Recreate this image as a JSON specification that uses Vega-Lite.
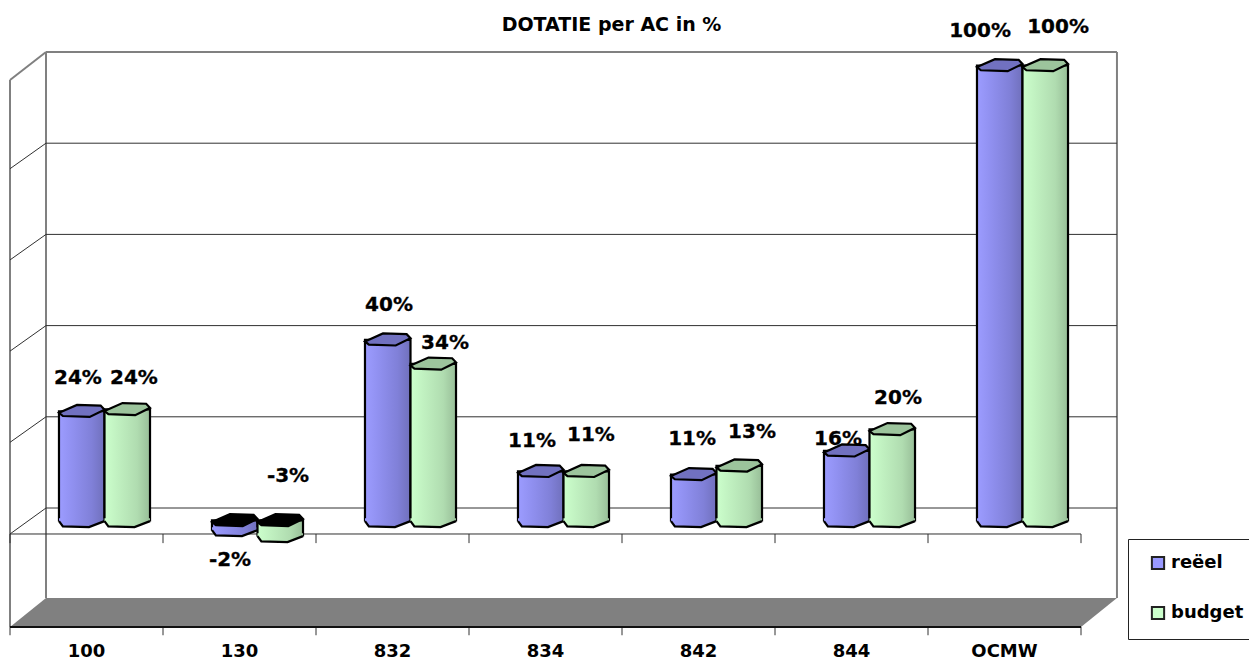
{
"$schema":"https://vega.github.io/schema/vega-lite/v6.json",
"width":1249,"height":661,"padding":0,"autosize":{"type":"none"},
"background":"white",
"title":{"text":"DOTATIE per AC in %","anchor":"middle","frame":"group","dx":-13,"offset":-35,"font":"DejaVu Sans","fontSize":19,"fontWeight":"bold","color":"black"},
"config":{"view":{"stroke":null}},
"datasets":{
"bars":[
{"category":"100","series":"reëel","value":24,"top":24,"bottom":0,"label":"24%","label_x":0.444,"label_y":28.5},
{"category":"100","series":"budget","value":24.4,"top":24.4,"bottom":0,"label":"24%","label_x":0.81,"label_y":28.5},
{"category":"130","series":"reëel","value":-2,"top":0,"bottom":-2,"label":"-2%","label_x":1.438,"label_y":-11.4},
{"category":"130","series":"budget","value":-3.3,"top":0,"bottom":-3.3,"label":"-3%","label_x":1.817,"label_y":7},
{"category":"832","series":"reëel","value":39.7,"top":39.7,"bottom":0,"label":"40%","label_x":2.477,"label_y":44.5},
{"category":"832","series":"budget","value":34.4,"top":34.4,"bottom":0,"label":"34%","label_x":2.843,"label_y":36.2},
{"category":"834","series":"reëel","value":10.8,"top":10.8,"bottom":0,"label":"11%","label_x":3.412,"label_y":14.7},
{"category":"834","series":"budget","value":10.8,"top":10.8,"bottom":0,"label":"11%","label_x":3.797,"label_y":16},
{"category":"842","series":"reëel","value":10.1,"top":10.1,"bottom":0,"label":"11%","label_x":4.458,"label_y":15.1},
{"category":"842","series":"budget","value":12,"top":12,"bottom":0,"label":"13%","label_x":4.85,"label_y":16.7},
{"category":"844","series":"reëel","value":15.3,"top":15.3,"bottom":0,"label":"16%","label_x":5.412,"label_y":15.1},
{"category":"844","series":"budget","value":20,"top":20,"bottom":0,"label":"20%","label_x":5.804,"label_y":24.1},
{"category":"OCMW","series":"reëel","value":100,"top":100,"bottom":0,"label":"100%","label_x":6.34,"label_y":104.6},
{"category":"OCMW","series":"budget","value":100,"top":100,"bottom":0,"label":"100%","label_x":6.85,"label_y":105.5}
],
"floor":[
{"a":0,"b":-26.1,"c":-26.1},
{"a":0.2353,"b":-19.74,"c":-26.1},
{"a":7,"b":-19.74,"c":-26.1},
{"a":7.235,"b":-19.74,"c":-19.74}
],
"frame":[
{"a":0,"a2":0,"b":93.86,"b2":-26.1},
{"a":0.2353,"a2":0.2353,"b":100,"b2":-19.74},
{"a":0.2353,"a2":7.235,"b":100,"b2":100},
{"a":0,"a2":0.2353,"b":93.86,"b2":100},
{"a":7.235,"a2":7.235,"b":100,"b2":-19.74}
],
"grid":[
{"a":0.2353,"a2":7.235,"b":0,"b2":0},
{"a":0.2353,"a2":7.235,"b":20,"b2":20},
{"a":0.2353,"a2":7.235,"b":40,"b2":40},
{"a":0.2353,"a2":7.235,"b":60,"b2":60},
{"a":0.2353,"a2":7.235,"b":80,"b2":80},
{"a":0,"a2":0.2353,"b":-5.7,"b2":0},
{"a":0,"a2":0.2353,"b":14.4,"b2":20},
{"a":0,"a2":0.2353,"b":34.4,"b2":40},
{"a":0,"a2":0.2353,"b":54.4,"b2":60},
{"a":0,"a2":0.2353,"b":74.4,"b2":80},
{"a":0,"a2":7,"b":-5.7,"b2":-5.7},
{"a":0,"a2":0,"b":-5.7,"b2":-7.7},
{"a":1,"a2":1,"b":-5.7,"b2":-7.7},
{"a":2,"a2":2,"b":-5.7,"b2":-7.7},
{"a":3,"a2":3,"b":-5.7,"b2":-7.7},
{"a":4,"a2":4,"b":-5.7,"b2":-7.7},
{"a":5,"a2":5,"b":-5.7,"b2":-7.7},
{"a":6,"a2":6,"b":-5.7,"b2":-7.7},
{"a":7,"a2":7,"b":-5.7,"b2":-7.7},
{"a":0,"a2":0,"b":-26.1,"b2":-27.9},
{"a":1,"a2":1,"b":-26.1,"b2":-27.9},
{"a":2,"a2":2,"b":-26.1,"b2":-27.9},
{"a":3,"a2":3,"b":-26.1,"b2":-27.9},
{"a":4,"a2":4,"b":-26.1,"b2":-27.9},
{"a":5,"a2":5,"b":-26.1,"b2":-27.9},
{"a":6,"a2":6,"b":-26.1,"b2":-27.9},
{"a":7,"a2":7,"b":-26.1,"b2":-27.9}
],
"front":[
{"a":0,"a2":7,"b":-26.1,"b2":-26.1}
]
},
"layer":[
{"layer":[
{"data":{"name":"floor"},"mark":{"type":"area","fill":"#808080","stroke":null,"opacity":1},
"encoding":{"x":{"field":"a","type":"quantitative","scale":{"domain":[-0.0654,8.098],"nice":false,"zero":false},"axis":null},
"y":{"field":"b","type":"quantitative","scale":{"domain":[-33.55,111.4],"nice":false,"zero":false},"axis":null},
"y2":{"field":"c"}}},
{"data":{"name":"frame"},"mark":{"type":"rule","color":"#808080","strokeWidth":2},
"encoding":{"x":{"field":"a","type":"quantitative","axis":null},"x2":{"field":"a2"},"y":{"field":"b","type":"quantitative","axis":null},"y2":{"field":"b2"}}},
{"data":{"name":"grid"},"mark":{"type":"rule","color":"#303030","strokeWidth":1},
"encoding":{"x":{"field":"a","type":"quantitative","axis":null},"x2":{"field":"a2"},"y":{"field":"b","type":"quantitative","axis":null},"y2":{"field":"b2"}}},
{"data":{"name":"front"},"mark":{"type":"rule","color":"#111111","strokeWidth":2},
"encoding":{"x":{"field":"a","type":"quantitative","axis":null},"x2":{"field":"a2"},"y":{"field":"b","type":"quantitative","axis":null},"y2":{"field":"b2"}}}
]},
{"data":{"name":"bars"},
"encoding":{
"x":{"field":"category","type":"nominal","scale":{"domain":["100","130","832","834","842","844","OCMW"],"range":[28,1099],"paddingInner":0.405,"paddingOuter":0.2025},
"axis":{"title":null,"orient":"bottom","offset":-34,"domain":false,"grid":false,"ticks":false,"labelOffset":-18,"labelAngle":0,"labelFont":"DejaVu Sans","labelFontSize":18,"labelFontWeight":"bold","labelColor":"black","labelPadding":15}},
"xOffset":{"field":"series","type":"nominal","scale":{"domain":["reëel","budget"]}},
"y":{"field":"top","type":"quantitative","scale":{"domain":[-30.9,114.4],"nice":false,"zero":false},"axis":null}
},
"layer":[
{"mark":{"type":"bar"},
"encoding":{"y2":{"field":"bottom"},
"color":{"field":"series","type":"nominal","scale":{"domain":["reëel","budget"],"range":["#9999FF","#CCFFCC"]},
"legend":{"title":null,"orient":"none","legendX":1128,"legendY":539,"direction":"vertical","strokeColor":"#222222","fillColor":"white","padding":15,"rowPadding":28,"symbolType":"square","symbolSize":150,"symbolOffset":6,"symbolStrokeColor":"#222222","symbolStrokeWidth":2,"labelFont":"DejaVu Sans","labelFontSize":18,"labelFontWeight":"bold","labelColor":"black","labelOffset":4}}}},
{"transform":[{"filter":"datum.series==='reëel'"}],"layer":[
{"mark":{"type":"bar","stroke":"black","strokeWidth":2.2,"fill":{"x1":0,"y1":0,"x2":1,"y2":0,"gradient":"linear","stops":[{"offset":0,"color":"#9C9CFF"},{"offset":0.3,"color":"#9090F0"},{"offset":0.72,"color":"#8080D8"},{"offset":1,"color":"#7070BC"}]}},"encoding":{"y2":{"field":"bottom"}}},
{"mark":{"type":"point","filled":true,"opacity":1,"size":2070,"shape":"M-1,0.03L-0.83,0.26L0.32,0.29L1,0.03L1,-0.1L-1,-0.1Z","fill":{"x1":0,"y1":0,"x2":1,"y2":0,"gradient":"linear","stops":[{"offset":0,"color":"#9C9CFF"},{"offset":0.3,"color":"#9090F0"},{"offset":0.72,"color":"#8080D8"},{"offset":1,"color":"#7070BC"}]},"stroke":null},"encoding":{"y":{"field":"bottom","type":"quantitative"}}},
{"mark":{"type":"point","filled":false,"opacity":1,"size":2070,"shape":"M-1,0.03L-0.83,0.26L0.32,0.29L1,0.03","stroke":"black","strokeWidth":2.2},"encoding":{"y":{"field":"bottom","type":"quantitative"}}},
{"mark":{"type":"point","filled":true,"opacity":1,"size":2070,"shape":"M-1,0.07L-0.21,-0.28L0.83,-0.25L1,-0.07L0.35,0.25L-0.83,0.21Z","stroke":"black","strokeWidth":2.2},
"encoding":{"fill":{"condition":{"test":"datum.value<0","value":"#000000"},"value":"#7171C0"}}}
]},
{"transform":[{"filter":"datum.series==='budget'"}],"layer":[
{"mark":{"type":"bar","stroke":"black","strokeWidth":2.2,"fill":{"x1":0,"y1":0,"x2":1,"y2":0,"gradient":"linear","stops":[{"offset":0,"color":"#CCFFCC"},{"offset":0.3,"color":"#C0F0C0"},{"offset":0.72,"color":"#B0DCB0"},{"offset":1,"color":"#98BE98"}]}},"encoding":{"y2":{"field":"bottom"}}},
{"mark":{"type":"point","filled":true,"opacity":1,"size":2070,"shape":"M-1,0.03L-0.83,0.26L0.32,0.29L1,0.03L1,-0.1L-1,-0.1Z","fill":{"x1":0,"y1":0,"x2":1,"y2":0,"gradient":"linear","stops":[{"offset":0,"color":"#CCFFCC"},{"offset":0.3,"color":"#C0F0C0"},{"offset":0.72,"color":"#B0DCB0"},{"offset":1,"color":"#98BE98"}]},"stroke":null},"encoding":{"y":{"field":"bottom","type":"quantitative"}}},
{"mark":{"type":"point","filled":false,"opacity":1,"size":2070,"shape":"M-1,0.03L-0.83,0.26L0.32,0.29L1,0.03","stroke":"black","strokeWidth":2.2},"encoding":{"y":{"field":"bottom","type":"quantitative"}}},
{"mark":{"type":"point","filled":true,"opacity":1,"size":2070,"shape":"M-1,0.07L-0.21,-0.28L0.83,-0.25L1,-0.07L0.35,0.25L-0.83,0.21Z","stroke":"black","strokeWidth":2.2},
"encoding":{"fill":{"condition":{"test":"datum.value<0","value":"#000000"},"value":"#9CC49C"}}}
]}
]},
{"data":{"name":"bars"},
"mark":{"type":"text","font":"DejaVu Sans","fontSize":20,"fontWeight":"bold","color":"black","stroke":"black","strokeWidth":0.3,"align":"center","baseline":"middle"},
"encoding":{
"x":{"field":"label_x","type":"quantitative","scale":{"domain":[-0.0654,8.098],"nice":false,"zero":false},"axis":null},
"y":{"field":"label_y","type":"quantitative","scale":{"domain":[-33.55,111.4],"nice":false,"zero":false},"axis":null},
"text":{"field":"label","type":"nominal"}}}
],
"resolve":{"scale":{"x":"independent","y":"independent"}}
}
